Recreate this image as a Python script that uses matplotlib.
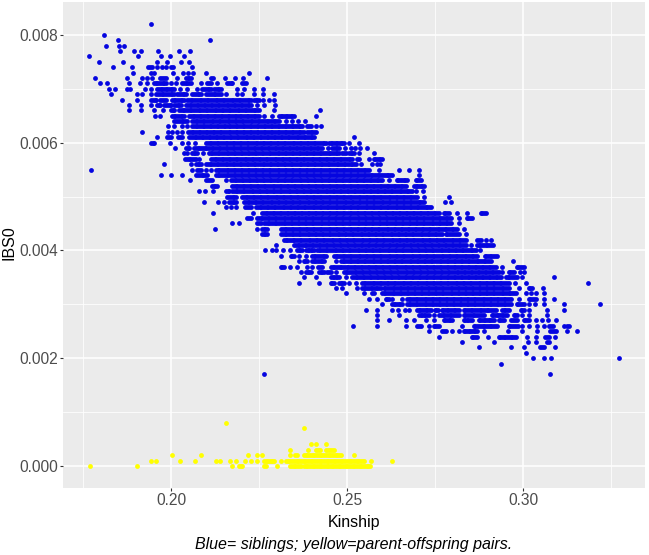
import matplotlib
matplotlib.use("Agg")
import matplotlib.pyplot as plt
import numpy as np
from matplotlib.ticker import FixedLocator

plt.rcParams['font.family'] = ['Liberation Sans', 'DejaVu Sans']

# ---------------- data ----------------
# Each row = one IBS0 value; entries are kinship values of points
# (a float) or runs of densely packed points (start, end).
x_ticks = [0.20, 0.25, 0.30]
x_tick_labels = ["0.20", "0.25", "0.30"]
y_ticks = [0.000, 0.002, 0.004, 0.006, 0.008]
y_tick_labels = ["0.000", "0.002", "0.004", "0.006", "0.008"]

sib_ibs0 = [round(0.0082 - 0.0001 * i, 4) for i in range(66)]  # 0.0082 ... 0.0017

sib_kinship_runs = [
    [0.1943],                                                                 # 0.0082
    [],                                                                       # 0.0081
    [0.1809],                                                                 # 0.0080
    [0.1849, 0.2110],                                                         # 0.0079
    [0.1815, 0.1852, 0.1866],                                                 # 0.0078
    [0.1855, 0.1894, 0.1914, 0.1963, 0.2022, 0.2053],                         # 0.0077
    [0.1767, 0.1906, 0.1971, 0.1997, 0.2036],                                 # 0.0076
    [0.1795, 0.1863, 0.1960, 0.1988, 0.2028, 0.2051],                         # 0.0075
    [0.1835, 0.1889, (0.1934, 0.1946), 0.1960, 0.1974, 0.1985, (0.2000, 0.2005), 0.2059],
    [0.1892, 0.1943, 0.1951, 0.2005, 0.2034, 0.2048, 0.2062, 0.2099, 0.2221],
    [0.1784, 0.1875, 0.1917, 0.1931, 0.1946, (0.1968, 0.1985), 0.2017, (0.2042, 0.2056),
     (0.2113, 0.2119), 0.2153, 0.2181, 0.2204, 0.2272],                       # 0.0072
    [0.1798, 0.1818, 0.1880, 0.1911, 0.1931, (0.1951, 0.1985), 0.2000, 0.2014, (0.2031, 0.2056),
     0.2085, (0.2102, 0.2113), 0.2130, (0.2159, 0.2173), (0.2201, 0.2212)],   # 0.0071
    [0.1823, 0.1840, 0.1875, 0.1883, 0.1926, 0.1943, (0.1960, 0.2008), 0.2025, 0.2045, 0.2073,
     (0.2088, 0.2113), (0.2122, 0.2141), 0.2187, 0.2207, 0.2235, 0.2261],     # 0.0070
    [0.1829, 0.1903, 0.1917, 0.1943, (0.1957, 0.2008), (0.2017, 0.2042), (0.2059, 0.2085),
     (0.2099, 0.2141), 0.2156, 0.2187, 0.2201, 0.2235, 0.2261, 0.2292],       # 0.0069
    [0.1860, 0.1903, (0.1943, 0.1957), (0.1968, 0.1985), (0.2002, 0.2036), (0.2045, 0.2227),
     (0.2235, 0.2249), 0.2261, 0.2278, 0.2292],                               # 0.0068
    [0.1880, 0.1914, 0.1943, (0.1960, 0.1968), (0.1980, 0.2000), (0.2008, 0.2028),
     (0.2042, 0.2227), 0.2244, 0.2264, 0.2295],                               # 0.0067
    [0.1880, 0.1914, 0.1951, 0.1977, (0.2000, 0.2008), (0.2022, 0.2249), 0.2292, 0.2423],
    [0.1954, 0.1968, (0.2002, 0.2036), (0.2051, 0.2249), 0.2264, 0.2286, (0.2306, 0.2349), 0.2411],
    [(0.2008, 0.2045), (0.2059, 0.2306), 0.2326, 0.2343, 0.2360, 0.2380],     # 0.0064
    [0.1991, 0.2008, 0.2031, 0.2045, (0.2059, 0.2372), (0.2386, 0.2397), 0.2411, 0.2425],
    [0.1917, 0.1991, 0.2002, 0.2017, 0.2031, (0.2048, 0.2377), (0.2386, 0.2411)],
    [0.1960, (0.1988, 0.2000), (0.2019, 0.2031), (0.2051, 0.2406), 0.2519],   # 0.0061
    [(0.1943, 0.1951), 0.1997, 0.2031, 0.2048, 0.2068, (0.2099, 0.2440), (0.2448, 0.2491),
     0.2505, 0.2533],                                                         # 0.0060
    [0.2011, (0.2042, 0.2051), (0.2065, 0.2428), 0.2445, (0.2457, 0.2477), 0.2494, 0.2511,
     0.2522, 0.2536, 0.2556],                                                 # 0.0059
    [0.2036, 0.2045, (0.2059, 0.2073), 0.2090, (0.2107, 0.2477), (0.2485, 0.2496),
     (0.2505, 0.2519), 0.2533, 0.2576],                                       # 0.0058
    [(0.2039, 0.2070), 0.2079, (0.2113, 0.2514), (0.2528, 0.2533), 0.2562, (0.2576, 0.2599)],
    [0.1980, 0.2056, (0.2070, 0.2085), (0.2099, 0.2525), 0.2539, 0.2570, 0.2585, 0.2593],
    [0.1772, 0.2059, (0.2073, 0.2085), 0.2099, 0.2113, (0.2127, 0.2562), 0.2590, 0.2647,
     0.2675, 0.2704],                                                         # 0.0055
    [0.1971, 0.2000, 0.2031, (0.2070, 0.2102), (0.2127, 0.2627), 0.2704],     # 0.0054
    [0.2053, (0.2099, 0.2116), 0.2156, (0.2170, 0.2599), 0.2619, (0.2641, 0.2670), (0.2695, 0.2709)],
    [(0.2116, 0.2130), (0.2173, 0.2667), (0.2690, 0.2718)],                   # 0.0052
    [0.2079, 0.2096, 0.2119, (0.2156, 0.2164), (0.2173, 0.2684), 0.2695, 0.2715],
    [(0.2159, 0.2184), (0.2201, 0.2698), 0.2718, 0.2789],                     # 0.0050
    [0.2093, 0.2133, 0.2150, (0.2164, 0.2184), (0.2207, 0.2718), 0.2778, 0.2795],
    [0.2156, 0.2170, 0.2184, (0.2210, 0.2227), (0.2241, 0.2738)],             # 0.0048
    [0.2119, 0.2232, (0.2258, 0.2761), (0.2775, 0.2789), 0.2812, 0.2840, (0.2880, 0.2894)],
    [(0.2215, 0.2227), (0.2244, 0.2795), 0.2817, (0.2840, 0.2854)],           # 0.0046
    [0.2173, 0.2193, (0.2244, 0.2255), (0.2264, 0.2795), 0.2817],             # 0.0045
    [0.2124, 0.2244, (0.2258, 0.2272), (0.2312, 0.2812), 0.2831],             # 0.0044
    [(0.2258, 0.2272), (0.2312, 0.2769), (0.2780, 0.2817), 0.2837],           # 0.0043
    [(0.2320, 0.2837), (0.2869, 0.2880), 0.2894, 0.2908],                     # 0.0042
    [0.2298, (0.2349, 0.2837), 0.2851, (0.2869, 0.2914)],                     # 0.0041
    [0.2266, 0.2286, 0.2298, 0.2318, 0.2337, (0.2357, 0.2372), (0.2383, 0.2406),
     (0.2414, 0.2866), 0.2877],                                               # 0.0040
    [0.2312, (0.2340, 0.2349), 0.2363, 0.2383, (0.2400, 0.2440), (0.2462, 0.2869), (0.2891, 0.2925)],
    [0.2363, (0.2377, 0.2386), (0.2400, 0.2434), 0.2468, (0.2482, 0.2908), 0.2971],
    [(0.2312, 0.2320), 0.2337, 0.2357, 0.2386, 0.2400, (0.2417, 0.2428), (0.2454, 0.2922),
     0.2940, (0.2982, 0.3002)],                                               # 0.0037
    [0.2369, (0.2383, 0.2397), (0.2420, 0.2434), (0.2443, 0.2454), 0.2468, (0.2491, 0.2931),
     0.2940, (0.2959, 0.2974), 0.2991, 0.3002],                               # 0.0036
    [0.2377, 0.2411, (0.2454, 0.2477), 0.2496, (0.2514, 0.2937), (0.2951, 0.2982), 0.2996, 0.3087],
    [0.2363, 0.2420, (0.2454, 0.2462), (0.2477, 0.2491), 0.2505, 0.2525, (0.2542, 0.2959),
     0.2977, 0.3008, 0.3184],                                                 # 0.0034
    [0.2468, 0.2485, 0.2528, (0.2542, 0.2596), (0.2604, 0.2959), 0.2988, (0.3016, 0.3025), 0.3056],
    [0.2496, 0.2547, (0.2570, 0.2576), (0.2599, 0.2979), 0.3008, 0.3022, 0.3036, 0.3059],
    [0.2562, 0.2585, (0.2610, 0.2619), 0.2627, 0.2656, (0.2670, 0.2965), 0.2988,
     (0.3016, 0.3036), 0.3059, 0.3087],                                       # 0.0031
    [0.2599, (0.2627, 0.2656), (0.2670, 0.2965), (0.2982, 0.3002), 0.3016, 0.3033, 0.3059,
     0.3118, 0.3218],                                                         # 0.0030
    [0.2553, 0.2585, 0.2627, 0.2644, 0.2664, 0.2675, (0.2698, 0.2738), (0.2749, 0.2758),
     (0.2769, 0.2817), (0.2831, 0.2922), (0.2940, 0.2959), (0.2993, 0.3002), 0.3016,
     0.3067, 0.3118],                                                         # 0.0029
    [0.2585, 0.2647, (0.2704, 0.2732), 0.2746, (0.2761, 0.2817), (0.2831, 0.2888),
     (0.2911, 0.2954), (0.2974, 0.2982), 0.2996, 0.3016, 0.3067],             # 0.0028
    [0.2585, 0.2619, 0.2667, 0.2690, 0.2724, 0.2746, (0.2775, 0.2798), (0.2831, 0.2854),
     (0.2874, 0.2917), (0.2931, 0.2945), (0.2965, 0.2982), (0.3002, 0.3016), 0.3036,
     0.3053, 0.3070, 0.3093],                                                 # 0.0027
    [0.2516, 0.2585, 0.2667, (0.2698, 0.2709), 0.2732, (0.2746, 0.2761), 0.2826,
     (0.2860, 0.2925), (0.2959, 0.2985), 0.2996, 0.3016, 0.3039, 0.3059, (0.3073, 0.3084),
     (0.3118, 0.3130)],                                                       # 0.0026
    [0.2732, (0.2769, 0.2780), 0.2798, 0.2817, (0.2831, 0.2869), 0.2888, 0.2957, 0.2996,
     0.3039, (0.3076, 0.3093), 0.3124, 0.3155],                               # 0.0025
    [0.2761, (0.2854, 0.2869), 0.2900, (0.2931, 0.2979), 0.3011, 0.3036, (0.3064, 0.3073), 0.3090],
    [0.2826, 0.2917, 0.3013, 0.3036, (0.3067, 0.3073)],                       # 0.0023
    [0.2874, 0.2965, 0.3002, (0.3047, 0.3059), 0.3090],                       # 0.0022
    [0.3008],                                                                 # 0.0021
    [0.3028, 0.3059, 0.3079, 0.3272],                                         # 0.0020
    [0.2937],                                                                 # 0.0019
    [],                                                                       # 0.0018
    [0.2264, 0.3076],                                                         # 0.0017
]

po_ibs0 = [0.0008, 0.0007, 0.0004, 0.0003, 0.0002, 0.0001, 0.0000]
po_kinship_runs = [
    [0.2156],
    [0.2377],
    [0.2397, 0.2411, 0.2440],
    [0.2337, 0.2389, (0.2411, 0.2423), (0.2440, 0.2462)],
    [0.2002, 0.2085, 0.2218, 0.2244, 0.2258, 0.2337, (0.2352, 0.2357), (0.2377, 0.2482), 0.2519],
    [0.1943, 0.1957, 0.2025, 0.2068, 0.2127, 0.2139, 0.2167, 0.2184, 0.2210, 0.2227, 0.2244,
     (0.2264, 0.2292), 0.2312, (0.2326, 0.2547), 0.2567, 0.2627],
    [0.1769, 0.1903, 0.2173, (0.2193, 0.2201), (0.2264, 0.2269), 0.2300, (0.2337, 0.2369),
     (0.2377, 0.2565)],
]


def expand(rows, runs, step=0.0005):
    xs, ys = [], []
    for y, items in zip(rows, runs):
        for it in items:
            if isinstance(it, tuple):
                a, b = it
                n = max(int(round((b - a) / step)), 1)
                for v in np.linspace(a, b, n + 1):
                    xs.append(v)
                    ys.append(y)
            else:
                xs.append(it)
                ys.append(y)
    return np.array(xs), np.array(ys)


sx, sy = expand(sib_ibs0, sib_kinship_runs)
px, py = expand(po_ibs0, po_kinship_runs)

# ---------------- figure ----------------
W, H = 649, 555
fig = plt.figure(figsize=(W / 100, H / 100), dpi=100)
left, right, top, bottom = 63, 645, 2, 488
ax = fig.add_axes([left / W, 1 - bottom / H, (right - left) / W, (bottom - top) / H])
ax.set_facecolor('#EBEBEB')
for s in ax.spines.values():
    s.set_visible(False)

ax.set_xlim(0.1692, 0.3347)
ax.set_ylim(-0.00041, 0.00861)

ax.xaxis.set_major_locator(FixedLocator(x_ticks))
ax.yaxis.set_major_locator(FixedLocator(y_ticks))
ax.xaxis.set_minor_locator(FixedLocator([0.175, 0.225, 0.275, 0.325]))
ax.yaxis.set_minor_locator(FixedLocator([0.001, 0.003, 0.005, 0.007]))
ax.set_xticklabels(x_tick_labels)
ax.set_yticklabels(y_tick_labels)
ax.grid(which='major', color='white', linewidth=1.1)
ax.grid(which='minor', color='white', linewidth=0.55)
ax.set_axisbelow(True)
ax.tick_params(which='major', length=2.4, width=0.8, color='#333333',
               labelsize=11.2, labelcolor='#4D4D4D', pad=1.0)
ax.tick_params(which='minor', length=0)

ax.scatter(sx, sy, s=12, color='#0505E0', linewidths=0, zorder=3)
ax.scatter(px, py, s=12, color='#FFFF00', linewidths=0, zorder=3)

ax.set_xlabel('Kinship', fontsize=11.5, color='black', labelpad=5)
fig.text(9 / W, 1 - 243 / H, 'IBS0', fontsize=11.5, color='black',
         rotation=90, ha='center', va='center')

fig.text((left + right) / 2 / W, 1 - 545 / H,
         'Blue= siblings; yellow=parent-offspring pairs.',
         fontsize=11.5, style='italic', ha='center', va='center', color='black')

fig.savefig('out.png', dpi=100)
